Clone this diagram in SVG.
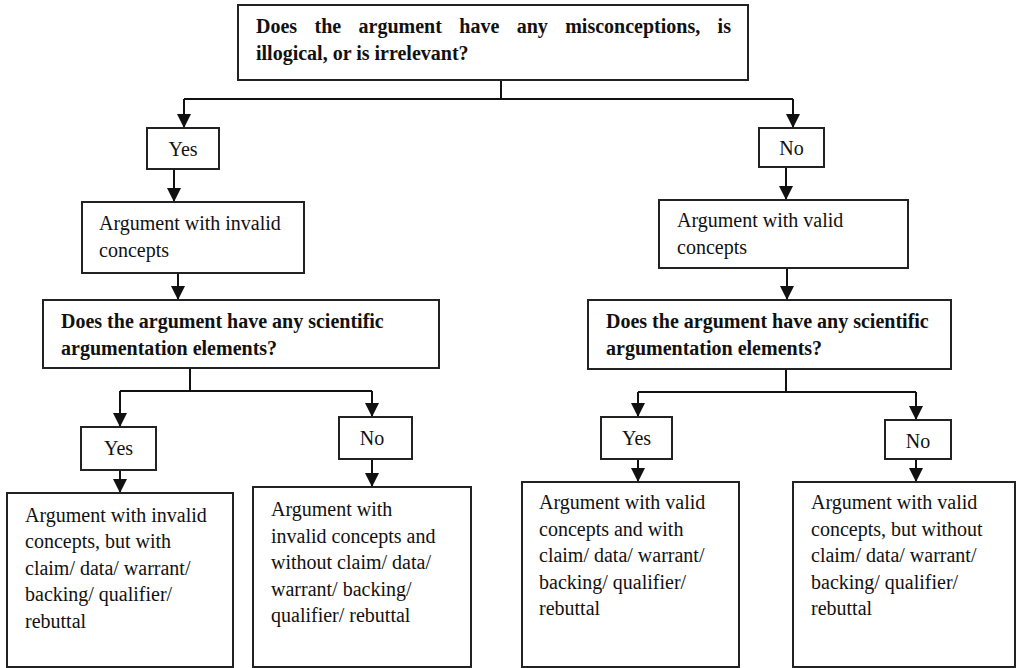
<svg xmlns="http://www.w3.org/2000/svg" width="1016" height="668" viewBox="0 0 1016 668">
<style>
.box{fill:#fff;stroke:#222;stroke-width:2}
.t{font-family:"Liberation Serif","Times New Roman",serif;font-size:20px;fill:#111}
.b{font-weight:bold}
.c{fill:none;stroke:#111;stroke-width:2}
</style>
<defs>
<marker id="ah" markerUnits="userSpaceOnUse" markerWidth="14" markerHeight="14" viewBox="0 0 14 14" refX="14" refY="7" orient="auto">
<path d="M0,0 L14,7 L0,14 Z" fill="#111"/>
</marker>
</defs>
<rect width="1016" height="668" fill="#fff"/>
<g id="connectors">
<path class="c" d="M501,80 V99"/>
<path class="c" d="M184,99 H793"/>
<path class="c" d="M184,99 V128" marker-end="url(#ah)"/>
<path class="c" d="M793,99 V128" marker-end="url(#ah)"/>
<path class="c" d="M174,169 V202" marker-end="url(#ah)"/>
<path class="c" d="M786,167 V200" marker-end="url(#ah)"/>
<path class="c" d="M178,273 V300" marker-end="url(#ah)"/>
<path class="c" d="M787,268 V300" marker-end="url(#ah)"/>
<path class="c" d="M190,368 V391 M120,391 H372"/>
<path class="c" d="M120,391 V427" marker-end="url(#ah)"/>
<path class="c" d="M372,391 V417" marker-end="url(#ah)"/>
<path class="c" d="M120,470 V493" marker-end="url(#ah)"/>
<path class="c" d="M372,459 V487" marker-end="url(#ah)"/>
<path class="c" d="M786,369 V392 M638,392 H916"/>
<path class="c" d="M638,392 V417" marker-end="url(#ah)"/>
<path class="c" d="M916,392 V420" marker-end="url(#ah)"/>
<path class="c" d="M638,459 V482" marker-end="url(#ah)"/>
<path class="c" d="M916,459 V482" marker-end="url(#ah)"/>
</g>
<g id="q1">
<rect class="box" x="238" y="5" width="510" height="75"/>
<text class="t b" x="256" y="33" word-spacing="12.4">Does the argument have any misconceptions, is</text>
<text class="t b" x="256" y="60">illogical, or is irrelevant?</text>
</g>
<g id="yes1">
<rect class="box" x="147" y="128" width="72" height="41"/>
<text class="t" x="183" y="156" text-anchor="middle">Yes</text>
</g>
<g id="no1">
<rect class="box" x="759" y="128" width="65" height="39"/>
<text class="t" x="791.5" y="155" text-anchor="middle">No</text>
</g>
<g id="invalid">
<rect class="box" x="82" y="202" width="222" height="71"/>
<text class="t" x="99" y="230">Argument with invalid</text>
<text class="t" x="99" y="257">concepts</text>
</g>
<g id="valid">
<rect class="box" x="659" y="200" width="249" height="68"/>
<text class="t" x="677" y="227">Argument with valid</text>
<text class="t" x="677" y="254">concepts</text>
</g>
<g id="q2left">
<rect class="box" x="43" y="300" width="396" height="68"/>
<text class="t b" x="61" y="328">Does the argument have any scientific</text>
<text class="t b" x="61" y="355">argumentation elements?</text>
</g>
<g id="q2right">
<rect class="box" x="588" y="300" width="363" height="69"/>
<text class="t b" x="606" y="328">Does the argument have any scientific</text>
<text class="t b" x="606" y="355">argumentation elements?</text>
</g>
<g id="yes2">
<rect class="box" x="81" y="427" width="75" height="43"/>
<text class="t" x="118.5" y="455" text-anchor="middle">Yes</text>
</g>
<g id="no2">
<rect class="box" x="339" y="417" width="73" height="42"/>
<text class="t" x="372" y="445" text-anchor="middle">No</text>
</g>
<g id="yes3">
<rect class="box" x="601" y="417" width="71" height="42"/>
<text class="t" x="636.5" y="445" text-anchor="middle">Yes</text>
</g>
<g id="no3">
<rect class="box" x="885" y="420" width="66" height="39"/>
<text class="t" x="918" y="448" text-anchor="middle">No</text>
</g>
<g id="resA">
<rect class="box" x="7" y="493" width="226" height="174"/>
<text class="t" x="25" y="522">Argument with invalid</text>
<text class="t" x="25" y="548">concepts, but with</text>
<text class="t" x="25" y="575">claim/ data/ warrant/</text>
<text class="t" x="25" y="601">backing/ qualifier/</text>
<text class="t" x="25" y="628">rebuttal</text>
</g>
<g id="resB">
<rect class="box" x="253" y="487" width="218" height="180"/>
<text class="t" x="271" y="516">Argument with</text>
<text class="t" x="271" y="543">invalid concepts and</text>
<text class="t" x="271" y="569">without claim/ data/</text>
<text class="t" x="271" y="596">warrant/ backing/</text>
<text class="t" x="271" y="622">qualifier/ rebuttal</text>
</g>
<g id="resC">
<rect class="box" x="522" y="482" width="217" height="185"/>
<text class="t" x="539" y="509">Argument with valid</text>
<text class="t" x="539" y="536">concepts and with</text>
<text class="t" x="539" y="562">claim/ data/ warrant/</text>
<text class="t" x="539" y="589">backing/ qualifier/</text>
<text class="t" x="539" y="615">rebuttal</text>
</g>
<g id="resD">
<rect class="box" x="793" y="482" width="222" height="185"/>
<text class="t" x="811" y="509">Argument with valid</text>
<text class="t" x="811" y="536">concepts, but without</text>
<text class="t" x="811" y="562">claim/ data/ warrant/</text>
<text class="t" x="811" y="589">backing/ qualifier/</text>
<text class="t" x="811" y="615">rebuttal</text>
</g>
</svg>
